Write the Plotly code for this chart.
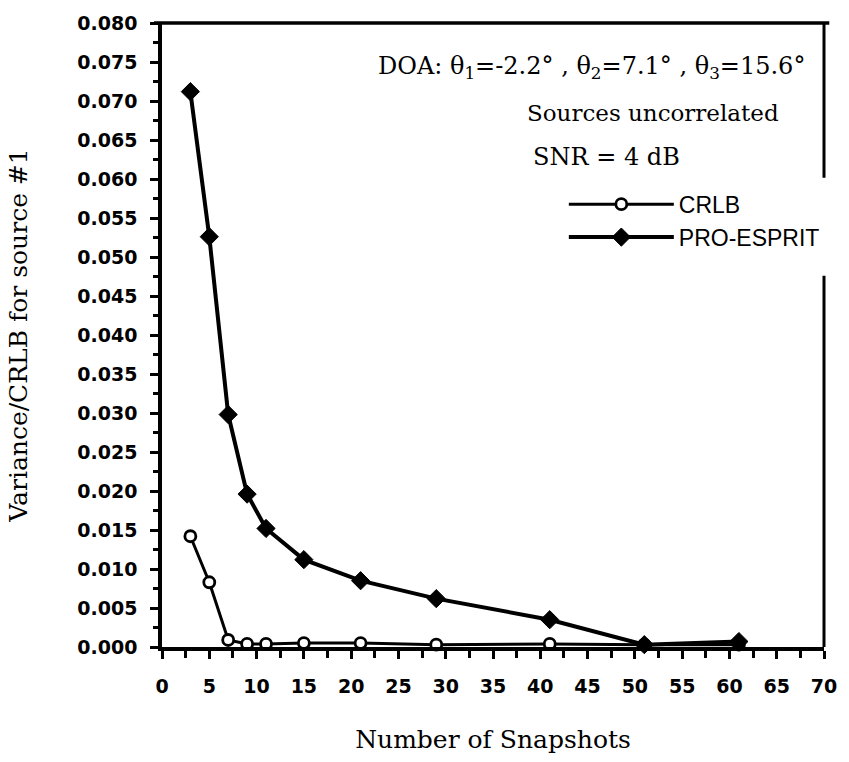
import plotly.graph_objects as go

# ---- data ----
snapshots = [3, 5, 7, 9, 11, 15, 21, 29, 41, 51, 61]
crlb = [0.0142, 0.0083, 0.0009, 0.0004, 0.0004, 0.0005, 0.0005, 0.0003, 0.0004, 0.0003, 0.0003]
pro_esprit = [0.0712, 0.0526, 0.0298, 0.0196, 0.0152, 0.0112, 0.0085, 0.0062, 0.0035, 0.0003, 0.0007]

y_ticks = [i * 0.005 for i in range(17)]
y_tick_text = ["%.3f" % v for v in y_ticks]
x_ticks = list(range(0, 71, 5))

series_names = ["CRLB", "PRO-ESPRIT"]
annot_lines = [
    "DOA: θ<sub>1</sub>=-2.2° , θ<sub>2</sub>=7.1° , θ<sub>3</sub>=15.6°",
    "Sources uncorrelated",
    "SNR = 4 dB",
]
x_title = "Number of Snapshots"
y_title = "Variance/CRLB for source #1"

SERIF = "DejaVu Serif"
SANS = "Liberation Sans"
TICKFONT = dict(family="DejaVu Sans", size=19, color="black", weight="bold")

fig = go.Figure()
fig.add_trace(go.Scatter(
    x=snapshots, y=crlb, name=series_names[0], mode="lines+markers",
    line=dict(color="black", width=3),
    marker=dict(symbol="circle", size=11, color="white", line=dict(color="black", width=2.8)),
    cliponaxis=False,
))
fig.add_trace(go.Scatter(
    x=snapshots, y=pro_esprit, name=series_names[1], mode="lines+markers",
    line=dict(color="black", width=4),
    marker=dict(symbol="diamond", size=14, color="black", line=dict(color="black", width=1)),
    cliponaxis=False,
))

fig.update_xaxes(
    range=[0, 70], tickvals=x_ticks, ticktext=[str(v) for v in x_ticks],
    showline=True, linewidth=3.5, linecolor="black", mirror=False,
    ticks="outside", ticklen=8, tickwidth=2.5, tickcolor="black",
    minor=dict(dtick=2.5, ticks="outside", ticklen=7, tickwidth=2.5, tickcolor="black"),
    showgrid=False, zeroline=False, tickfont=TICKFONT, ticklabelstandoff=11,
    title=dict(text=x_title, font=dict(family=SERIF, size=25, color="black"), standoff=36),
)
fig.update_yaxes(
    range=[0, 0.080], tickvals=y_ticks, ticktext=y_tick_text,
    showline=True, linewidth=3.5, linecolor="black", mirror=False,
    ticks="outside", ticklen=8, tickwidth=2.5, tickcolor="black",
    minor=dict(dtick=0.0025, ticks="outside", ticklen=5, tickwidth=2.5, tickcolor="black"),
    showgrid=False, zeroline=False, tickfont=TICKFONT, ticklabelstandoff=9,
    title=dict(text=y_title, font=dict(family=SERIF, size=25, color="black"), standoff=44),
)

# frame: top border and right border (with a gap behind the legend, as in the reference)
fig.add_shape(type="line", xref="paper", yref="paper", x0=-0.012, x1=1.008, y0=1, y1=1,
              line=dict(color="black", width=3.5))
fig.add_shape(type="line", xref="paper", yref="paper", x0=1.0, x1=1.0, y0=1, y1=0.752,
              line=dict(color="black", width=3))
fig.add_shape(type="line", xref="paper", yref="paper", x0=1.0, x1=1.0, y0=0.595, y1=0,
              line=dict(color="black", width=3))

annot_pos = [(0.323, 0.928), (0.548, 0.856), (0.557, 0.786)]
annot_size = [24, 23, 24]
for txt, (ax, ay), sz in zip(annot_lines, annot_pos, annot_size):
    fig.add_annotation(text=txt, xref="paper", yref="paper", x=ax, y=ay,
                       xanchor="left", yanchor="middle", showarrow=False,
                       font=dict(family=SERIF, size=sz, color="black"))

fig.update_layout(
    width=849, height=762,
    margin=dict(l=162, r=18, t=17, b=115),
    paper_bgcolor="white", plot_bgcolor="white",
    font=dict(family=SANS, color="black"),
    showlegend=True,
    legend=dict(x=0.607, y=0.744, xanchor="left", yanchor="top",
                font=dict(family=SANS, size=23, color="black"),
                bgcolor="rgba(0,0,0,0)", itemwidth=105, tracegroupgap=0),
)

fig.write_html("out.html")
